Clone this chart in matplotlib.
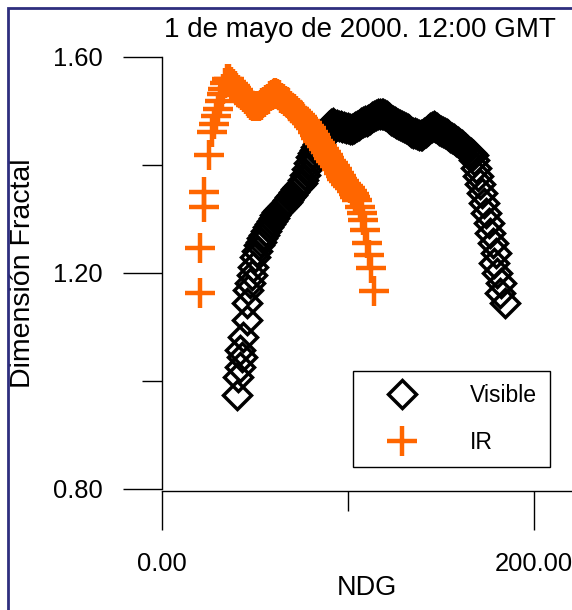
import matplotlib
matplotlib.use('Agg')
import matplotlib.pyplot as plt
from matplotlib.patches import Rectangle

plt.rcParams['font.family'] = ['Liberation Sans', 'DejaVu Sans']

title = "1 de mayo de 2000. 12:00 GMT"
x_label = "NDG"
y_label = "Dimensión Fractal"
series_names = ["Visible", "IR"]

visible_ndg = [40.3, 40.9, 41.9, 43.0, 41.9, 43.5, 45.7, 45.7, 46.2, 47.3, 48.4, 48.9, 50.0, 51.0,
               52, 53, 54, 55, 56, 57, 58, 59, 60, 61, 62, 63, 64, 65, 66, 67, 68, 69, 70,
               71, 72, 73, 74, 75, 76, 77, 78, 79, 80, 81, 82, 83, 84, 85, 86, 87, 88, 89, 90,
               91, 92, 93, 94, 95, 96, 97, 98, 99, 100, 101, 102, 103, 104, 105, 106, 107, 108,
               109, 110, 111, 112, 113, 114, 115, 116, 117, 118, 119, 120, 121, 122, 123, 124,
               125, 126, 127, 128, 129, 130, 131, 132, 133, 134, 135, 136, 137, 138, 139, 140,
               141, 142, 143, 144, 145, 146, 147, 148, 149, 150, 151, 152, 153, 154, 155, 156,
               157, 158, 159, 160, 161, 162, 163, 164, 165, 166, 167,
               167.7, 168.8, 169.9, 171.0, 172.0, 173.1, 174.2, 175.8, 176.3, 178.0, 179.6,
               178.5, 180.1, 182.3, 181.7, 184.4]
visible_fd = [0.974, 1.007, 1.026, 1.044, 1.057, 1.081, 1.113, 1.144, 1.169, 1.181, 1.196, 1.211,
              1.230, 1.241,
              1.252, 1.258, 1.265, 1.271, 1.278, 1.285, 1.291, 1.297, 1.302, 1.308, 1.313, 1.317,
              1.320, 1.324, 1.327, 1.332, 1.336, 1.341, 1.345, 1.350, 1.355, 1.359, 1.363, 1.367,
              1.372, 1.382, 1.393, 1.404, 1.414, 1.422, 1.428, 1.434, 1.439, 1.443, 1.447, 1.453,
              1.459, 1.466, 1.472, 1.476, 1.477, 1.475, 1.474, 1.473, 1.472, 1.471, 1.470, 1.469,
              1.468, 1.467, 1.467, 1.468, 1.470, 1.472, 1.474, 1.477, 1.479, 1.481, 1.482, 1.484,
              1.486, 1.488, 1.490, 1.492, 1.494, 1.495, 1.495, 1.495, 1.493, 1.490, 1.487, 1.484,
              1.481, 1.479, 1.477, 1.476, 1.474, 1.472, 1.470, 1.468, 1.466, 1.464, 1.462, 1.460,
              1.459, 1.458, 1.456, 1.455, 1.456, 1.459, 1.462, 1.465, 1.468, 1.471, 1.473, 1.471,
              1.468,
              1.465, 1.463, 1.461, 1.459, 1.457, 1.455, 1.452, 1.450, 1.448, 1.445, 1.442, 1.439,
              1.437, 1.434, 1.431, 1.428, 1.425, 1.422, 1.418,
              1.409, 1.394, 1.380, 1.365, 1.348, 1.330, 1.311, 1.293, 1.274, 1.256, 1.237,
              1.219, 1.200, 1.181, 1.163, 1.144]

ir_ndg = [20.2, 20.4, 22.6, 22.6, 25.3, 26.9,
          28, 29, 30, 31, 32, 33, 34, 35, 36, 37, 38, 39, 40, 41, 42, 43, 44, 45, 46, 47, 48,
          49, 50, 51, 52, 53, 54, 55, 56, 57, 58, 59, 60, 61, 62, 63, 64, 65, 66, 67, 68, 69,
          70, 71, 72, 73, 74, 75, 76, 77, 78, 79, 80, 81, 82, 83, 84, 85, 86, 87, 88, 89, 90,
          91, 92, 93, 94, 95, 96, 97, 98, 99, 100, 101, 102, 103, 104, 105,
          106.5, 107.5, 108.1, 109.1, 110.2, 111.3, 112.4, 114.0]
ir_fd = [1.163, 1.246, 1.322, 1.350, 1.419, 1.461,
         1.476, 1.490, 1.504, 1.518, 1.531, 1.541, 1.551, 1.559, 1.560, 1.554, 1.550, 1.547,
         1.543, 1.539, 1.534, 1.530, 1.526, 1.522, 1.518, 1.514, 1.511, 1.510, 1.509, 1.509,
         1.510, 1.512, 1.514, 1.517, 1.520, 1.523, 1.527, 1.530, 1.532, 1.533, 1.531, 1.529,
         1.525, 1.522, 1.519, 1.517, 1.514, 1.510, 1.506, 1.503, 1.500, 1.497, 1.493, 1.489,
         1.486, 1.482, 1.478, 1.473, 1.468, 1.462, 1.456, 1.450, 1.445, 1.440, 1.435, 1.430,
         1.425, 1.419, 1.413, 1.408, 1.403, 1.398, 1.392, 1.386, 1.380, 1.375, 1.370, 1.365,
         1.361, 1.357, 1.352, 1.346, 1.341, 1.336,
         1.322, 1.311, 1.298, 1.280, 1.256, 1.233, 1.209, 1.167]

y_major = [0.80, 1.20, 1.60]
y_major_labels = ["0.80", "1.20", "1.60"]
y_minor = [1.00, 1.40]
x_major = [0, 200]
x_major_labels = ["0.00", "200.00"]
x_minor = [100]

W, H = 572, 610
fig = plt.figure(figsize=(W / 100, H / 100), dpi=100)
ax = fig.add_axes([162 / W, (H - 489) / H, 410 / W, 432 / H])

ax.plot(visible_ndg, visible_fd, linestyle='none', marker='D', ms=14, mfc='none',
        mec='black', mew=2.5, label=series_names[0], clip_on=False)
ax.plot(ir_ndg, ir_fd, linestyle='none', marker='+', ms=21.5, mec='#FF6600', mew=3.2,
        label=series_names[1], clip_on=False)

ax.set_xlim(0, 220.4)
ax.set_ylim(0.8, 1.6)

for s in ['top', 'right']:
    ax.spines[s].set_visible(False)
ax.spines['bottom'].set_position(('outward', 1.5))
ax.spines['left'].set_linewidth(1.0)
ax.spines['bottom'].set_linewidth(1.0)

ax.set_yticks(y_major)
ax.set_yticklabels(y_major_labels)
ax.set_yticks(y_minor, minor=True)
ax.set_xticks(x_major)
ax.set_xticklabels(x_major_labels)
ax.set_xticks(x_minor, minor=True)

ax.tick_params(axis='both', which='major', direction='out', length=28, width=1.0,
               labelsize=18.4, color='black')
ax.tick_params(axis='both', which='minor', direction='out', length=14.2, width=1.0,
               color='black')
ax.tick_params(axis='y', which='major', pad=15)
ax.tick_params(axis='x', which='major', pad=16)

ax.set_xlabel(x_label, fontsize=19.5)
ax.xaxis.set_label_coords(0.5, -0.2)
ax.set_ylabel(y_label, fontsize=20.5, va='center', ha='center')
ax.yaxis.set_label_coords((23 - 162) / 410, 0.5)

fig.text(360 / W, 1 - 37 / H, title, ha='center', va='baseline', fontsize=20)

leg = ax.legend(loc='upper left', bbox_to_anchor=(353 / W, 1 - 371 / H),
                bbox_transform=fig.transFigure, borderaxespad=0, fontsize=16.6,
                fancybox=False, framealpha=1, edgecolor='black', borderpad=0.57,
                handlelength=3.12, handletextpad=1.39, labelspacing=1.03)
leg.get_frame().set_linewidth(1.0)

fig.patches.append(Rectangle((8 / W, -0.1), 1.2, 1 - 8 / H + 0.1, transform=fig.transFigure,
                             fill=False, edgecolor='#2e2e7e', lw=2))

fig.savefig('out.png', dpi=100)
